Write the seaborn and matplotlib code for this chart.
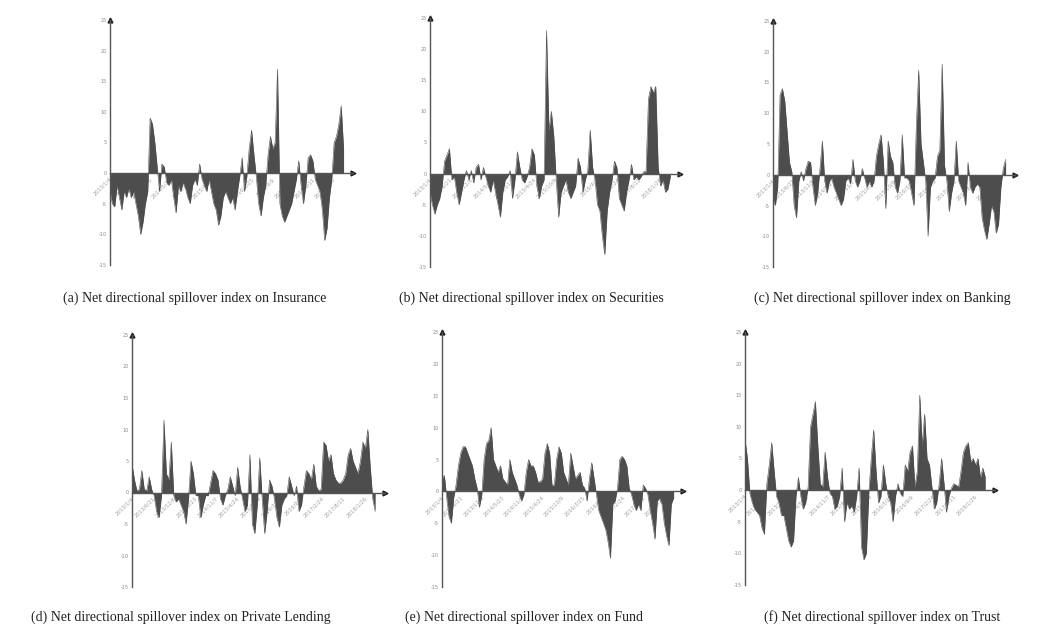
"""
Net directional spillover index - six panel area charts
"""

import numpy as np
import pandas as pd
import matplotlib
matplotlib.use('Agg')
import matplotlib.pyplot as plt
import seaborn as sns

sns.set_style("white")
plt.rcParams['font.family'] = ['DejaVu Sans']

insurance = [-3, -5, -5.5, -2, -4, -6, -3, -4, -2.5, -4, -3, -5, -7, -10, -8, -5, -3, 9, 8, 5,
             1, -3, 1.5, 1, -1.5, -2, -1, -4, -6.5, -2, -3, -1.5, -2.5, -4, -5, -2, -1, -2, 1.5, -1,
             -2, -3, -1, -3, -5, -6, -8.5, -7, -4, -3, -4, -5, -4, -6, -3, -0.5, 2.5, -3, -0.5, 4,
             7, 3, -0.5, -5, -7, -4, -2, 3, 6, 4, 5, 17, -5, -7, -8, -7, -6, -5, -3, -1,
             2, -2, -5, -2, 2.5, 3, 2, -1, -2, -3, -6, -11, -9, -4, -1, 5, 6, 8, 11, 4]

securities = [-3, -5, -6.5, -5, -4, -2, 2, 3, 4, -1, -0.5, -3, -5, -3, -1, 0.5, -1, 0.5, -1.5, 1,
              1.5, -1, 1, -0.5, -2, -3, -1, -3, -5, -7, -3, -1, -0.5, 0.5, -4, -1, 3.5, 1, -1, -1.5,
              -0.5, 1, 4, 3, -2, -4, -2, -1, 23, 7, 10, 6, -1, -7, -3, -2, -1, -3, -4, -3,
              -2, 2.5, 1, -3, -1, 0.5, 7, 1, -1, -5, -6, -10, -13, -6, -3, -1, 2, 1, -4, -5,
              -6, -3, -1, 1.5, -1, -0.5, -1, -0.5, 0.3, 0.3, 12, 14, 13, 14, 1, -2, -1, -3, -2.5, -0.5]

banking = [-4, -5, -2, 13, 14, 12, 7, 2, 0.5, -5, -7, -1, 0.5, -1, 1, 2.2, 2, -2, -5, -3,
           1, 5.5, -1, -3, -1, -0.5, -2, -3, -4, -5, -4, -1, -0.5, -1.5, 2.5, -1, -2, -1, 1, -0.5,
           -2, -1, -2, -1, 3, 5, 6.5, 2, -5.5, 5.5, 3, 2, -2, -3, -1, 6.5, -0.5, -0.5, -1, -3,
           -5, 8, 17, 5, 2, -1, -10, -2, -1, -0.5, 3, 4, 18, 1.5, -1, -6, -3, -1, 5.5, -1,
           -2, -3, -5, 2, -2, -3, -2, -1.5, -2, -7, -9, -10.5, -8, -5, -6, -9.5, -8, -2, 1, 2.5]

private_lending = [4.5, 2, 0.3, 0.5, 3.5, 0.5, 0.3, 2.5, 0.5, -0.5, -3, -4, -0.5, 11.5, 3, 2, 8, -0.5, -1.5, -1,
                   -2, -3, -5, -1, 5, 3, -0.5, -0.5, -4, -2, -0.5, -0.5, 1.5, 3.5, 3, 2, -1, -2, -0.5, 0.5,
                   2.5, 1, -0.5, 4, 1, -1, -3, -2, 6, -5, -6.5, -2, 5.5, -1, -6.5, -3, 2, 1, -1, -4,
                   -5.5, -2, -1, -0.5, 2.5, 1, -0.5, 1, -3, -2, 1, 3.5, 3, 2, 4.5, 1, 0.3, 0.5, 8, 7.5,
                   5, 6, 3, 2, 1.5, 1.5, 2, 3, 6, 7, 5, 4, 3, 5, 8, 7, 10, 4, -1, -3]

fund = [2, 2.5, -1, -4, -5, -1, 1, 4, 6, 7, 7, 6, 5, 4, 2, 0.5, -2.5, -0.5, 5, 7.5,
        8, 10, 5, 4, 3, 4, 2, 1.5, 1, 5, 3, 2, 1, -0.5, -1.5, -0.5, 3, 5, 4, 4,
        3, 1.5, 1.5, 2, 6, 7.5, 6, 1, 1, 5, 7, 6, 3, 2, 1, 6, 4, 2, 2.5, 3,
        1, 0.5, -1.5, 2, 4.5, 2, -0.5, -3, -4, -5, -6, -8, -10.5, -2, -1.5, 0.5, 5, 5.5, 5, 4,
        0.5, -0.5, -2, -3, -2, -3, 1, 0.5, -0.5, -3, -5, -7.5, -1.5, -1, -2, -5, -7, -8.5, -2, -1]

trust = [8, 5, -0.5, -2, -3, -3.5, -4, -6, -7, 1, 4, 7.5, 3, -1, -2, -4, -4, -6, -8, -9,
         -8, -1, 2, -1, -3, -2, 0.5, 10, 12, 14, 7, 1, 0.5, 6, 2, -0.5, -1, -3, -2.5, -1,
         3.5, -5, -2, -3, -2.5, -3.5, -1, 3.5, -9, -11, -10, -0.5, 5, 9.5, 3, -2, -1, 4, 1, -1,
         -2, -5, -1, 1, -0.5, -1, 4, 3, 6, 7, 0.5, 3, 15, 7, 12, 5, 4, 0.5, -3, -2,
         1, 5, 1, -3.5, -1, 0.3, 1, 0.8, 0.5, 3, 6, 7, 7.5, 4.5, 5, 4, 5, 2, 3.5, 2]

series = [insurance, securities, banking, private_lending, fund, trust]

captions = ['(a) Net directional spillover index on Insurance',
            '(b) Net directional spillover index on Securities',
            '(c) Net directional spillover index on Banking',
            '(d) Net directional spillover index on Private Lending',
            '(e) Net directional spillover index on Fund',
            '(f) Net directional spillover index on Trust']

date_labels = ['2013/1/4', '2013/6/21', '2013/12/6', '2014/5/23', '2014/11/7', '2015/4/24',
               '2015/10/9', '2016/3/25', '2016/9/9', '2017/2/24', '2017/8/11', '2018/1/26']

y_ticks = [-15, -10, -5, 0, 5, 10, 15, 20, 25]

# Layout in pixels: (axis x, arrow end x, y of 25, y of -15)
W, H = 1057, 627
boxes = [(110, 353, 20, 265), (430, 680, 18, 267), (773, 1015, 21, 267),
         (132, 385, 335, 587), (442, 683, 332, 587), (745, 995, 332, 585)]
caption_xy = [(195, 298), (531, 298), (882, 298), (181, 617), (524, 617), (882, 617)]

fill_color = '#4d4d4d'
axis_color = '#555555'

fig = plt.figure(figsize=(W / 100, H / 100), dpi=100)

for vals, (x0, x1, y0, y1), cap, (cx, cy) in zip(series, boxes, captions, caption_xy):
    ax = fig.add_axes([x0 / W, 1 - y1 / H, (x1 - x0) / W, (y1 - y0) / H])
    df = pd.DataFrame({'t': np.arange(len(vals)), 'v': vals})

    ax.fill_between(df['t'], 0, df['v'], color=fill_color, linewidth=0)
    sns.lineplot(data=df, x='t', y='v', ax=ax, color=fill_color, linewidth=0.4)

    ax.set_xlim(0, 103)
    ax.set_ylim(-15, 25)
    ax.set_xlabel('')
    ax.set_ylabel('')

    # axes through the origin
    ax.spines['bottom'].set_position(('data', 0))
    ax.spines['top'].set_visible(False)
    ax.spines['right'].set_visible(False)
    for s in ['left', 'bottom']:
        ax.spines[s].set_color(axis_color)
        ax.spines[s].set_linewidth(1.0)

    ax.set_yticks(y_ticks)
    ax.set_yticklabels([str(v) for v in y_ticks], fontsize=3.5, color='#8a8a8a')
    tick_pos = np.linspace(1, len(vals) - 4, len(date_labels))
    ax.set_xticks(tick_pos)
    ax.set_xticklabels(date_labels, rotation=45, ha='right', fontsize=3.8, color='#a0a0a0')
    ax.tick_params(axis='both', length=1.5, width=0.5, color=axis_color, pad=1)

    # arrow heads
    ax.plot(0, 1, marker='^', ms=3.5, color='#222222', transform=ax.transAxes, clip_on=False)
    ax.plot(1, 0, marker='>', ms=3.5, color='#222222', transform=ax.get_yaxis_transform(), clip_on=False)

    fig.text(cx / W, 1 - cy / H, cap, ha='center', va='center', fontsize=10,
             family='Liberation Serif', color='#222222')

plt.savefig('out.png', dpi=100)
